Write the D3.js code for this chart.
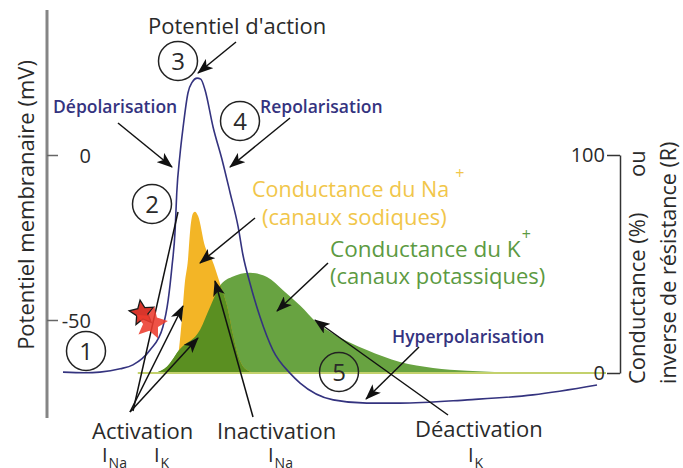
<!DOCTYPE html>
<html>
<head>
<meta charset="utf-8">
<script src="https://cdn.jsdelivr.net/npm/d3@7"></script>
<style>
html, body { margin: 0; padding: 0; background: #fff; }
svg { display: block; font-family: "Open Sans", sans-serif; }
</style>
</head>
<body>
<svg id="chart" width="683" height="468"></svg>
<script>
// membrane potential during the action potential (ms, mV)
var apTime = [0, 0.41, 0.69, 1.07, 1.31, 1.63, 1.87, 1.97, 2.04, 2.10, 2.13, 2.19, 2.25, 2.34, 2.42, 2.51, 2.58, 2.66, 2.81, 2.98, 3.13, 3.28, 3.37, 3.50, 3.69, 3.93, 4.25, 4.44, 5.06, 5.69, 6.31, 7.57, 8.80, 10.0];
var apVolt = [-65.8, -66.0, -65.8, -64.8, -63.6, -59.1, -52.1, -43.9, -33.9, -22.7, -11.5, 0, 8.5, 18.8, 22.1, 23.3, 23.0, 19.7, 8.5, -1.5, -11.5, -21.8, -30.3, -38.8, -49.1, -59.1, -66.1, -69.1, -74.2, -75.2, -75.2, -74.2, -72.7, -69.7];

// Na+ conductance (% of max)
var naTime = [2.00, 2.12, 2.17, 2.23, 2.28, 2.34, 2.38, 2.43, 2.47, 2.53, 2.66, 2.79, 2.94, 3.09, 3.18, 3.28, 3.41, 3.60];
var naCond = [0, 2, 10.5, 25.7, 41, 52, 65, 73, 74, 72, 58, 52, 41, 29, 18, 8, 2, 0];

// K+ conductance (% of max)
var kTime = [1.72, 1.95, 2.19, 2.57, 2.75, 2.94, 3.16, 3.50, 3.82, 4.12, 4.44, 4.76, 5.06, 5.37, 5.69, 6.31, 6.93, 7.57, 8.18, 8.93];
var kCond = [0, 3, 11, 20, 30, 40, 44, 46, 44, 38, 31, 23, 18, 14, 10.5, 5, 2.3, 1, 0.4, 0];

var voltTicks = [0, -50];
var condTicks = [0, 100];
var stepNumbers = ["1", "2", "3", "4", "5"];

var navy = "#34337f", ink = "#2a2a2a";

var svg = d3.select('#chart');
var defs = svg.append('defs');

var x = d3.scaleLinear().domain([0, 10]).range([63, 597]);
var yV = d3.scaleLinear().domain([-50, 0]).range([320, 155]);
var yG = d3.scaleLinear().domain([0, 100]).range([373, 155]);

var apData = apTime.map(function (t, i) { return { t: t, v: apVolt[i] }; });
var naData = naTime.map(function (t, i) { return { t: t, g: naCond[i] }; });
var kData = kTime.map(function (t, i) { return { t: t, g: kCond[i] }; });

var condArea = d3.area()
    .x(function (d) { return x(d.t); })
    .y0(yG(0))
    .y1(function (d) { return yG(d.g); })
    .curve(d3.curveMonotoneX);

// arrow head
defs.append('marker')
    .attr('id', 'arrow')
    .attr('viewBox', '0 0 16 12')
    .attr('refX', 15).attr('refY', 6)
    .attr('markerWidth', 16).attr('markerHeight', 12)
    .attr('markerUnits', 'userSpaceOnUse')
    .attr('orient', 'auto')
    .append('path')
    .attr('d', 'M0,0 L16,6 L0,12 L4,6 Z')
    .attr('fill', '#111');

// region left of the falling Na edge (K conductance shows darker there)
var naPeakT = naTime[naCond.indexOf(d3.max(naCond))];
var clip = defs.append('clipPath').attr('id', 'naLeft');
clip.append('path').attr('d', condArea(naData));
clip.append('rect').attr('x', 0).attr('y', 0).attr('width', x(naPeakT)).attr('height', yG(0) + 1);

// conductance fills
svg.append('path').attr('d', condArea(kData)).attr('fill', '#68a341');
svg.append('path').attr('d', condArea(naData)).attr('fill', '#f3b526');
svg.append('path').attr('d', condArea(kData)).attr('fill', '#5a8f21').attr('clip-path', 'url(#naLeft)');

// conductance zero line
svg.append('line')
    .attr('x1', x(1.4)).attr('x2', 606)
    .attr('y1', yG(0)).attr('y2', yG(0))
    .attr('stroke', '#c3d16c').attr('stroke-width', 2);

// left axis (membrane potential)
svg.append('line')
    .attr('x1', 47).attr('x2', 47).attr('y1', 10).attr('y2', 418)
    .attr('stroke', '#858585').attr('stroke-width', 3);

var gL = svg.append('g')
    .attr('transform', 'translate(47,0)')
    .call(d3.axisRight(yV).tickValues(voltTicks).tickSize(11).tickFormat(function (d) { return String(d); }));
gL.select('.domain').remove();
gL.selectAll('.tick line').attr('stroke', '#666').attr('stroke-width', 1.5);
gL.selectAll('.tick text')
    .attr('x', 44).attr('dy', '0.35em')
    .attr('text-anchor', 'end')
    .style('font-family', '"Open Sans", sans-serif')
    .style('font-size', '20px').attr('fill', ink);

// right axis (conductance)
var gR = svg.append('g')
    .attr('transform', 'translate(620,0)')
    .call(d3.axisLeft(yG).tickValues(condTicks).tickSize(13).tickSizeOuter(0).tickPadding(2));
gR.select('.domain').attr('stroke', '#333').attr('stroke-width', 1.5);
gR.selectAll('.tick line').attr('stroke', '#333').attr('stroke-width', 1.5);
gR.selectAll('.tick text')
    .style('font-family', '"Open Sans", sans-serif')
    .style('font-size', '20px').attr('fill', ink);

// axis titles
svg.append('text')
    .attr('transform', 'translate(34,205) rotate(-90)')
    .attr('text-anchor', 'middle')
    .style('font-size', '22px').attr('fill', ink)
    .text('Potentiel membranaire (mV)');
svg.append('text')
    .attr('transform', 'translate(645,384) rotate(-90)')
    .style('font-size', '22px').attr('fill', ink)
    .text('Conductance (%)');
svg.append('text')
    .attr('transform', 'translate(645,177) rotate(-90)')
    .style('font-size', '22px').attr('fill', ink)
    .text('ou');
svg.append('text')
    .attr('transform', 'translate(676,384) rotate(-90)')
    .style('font-size', '21.5px').attr('fill', ink)
    .text('inverse de résistance (R)');

// membrane potential curve
svg.append('path')
    .attr('d', d3.line()
        .x(function (d) { return x(d.t); })
        .y(function (d) { return yV(d.v); })
        .curve(d3.curveMonotoneX)(apData))
    .attr('fill', 'none')
    .attr('stroke', navy)
    .attr('stroke-width', 1.6);

// arrows [x1, y1, x2, y2, head]
var arrows = [
    [236, 42, 198, 73, true],
    [118, 123, 172, 167, true],
    [290, 118, 230, 167, true],
    [255, 218, 200, 263, true],
    [328, 263, 277, 311, true],
    [130, 412, 183, 306, true],
    [130, 412, 198, 338, true],
    [133, 411, 178, 212, false],
    [253, 417, 215, 281, true],
    [448, 415, 315, 320, true],
    [419, 347, 366, 399, true]
];
svg.selectAll('.arrow')
    .data(arrows)
    .enter()
    .append('line')
    .attr('class', 'arrow')
    .attr('x1', function (d) { return d[0]; })
    .attr('y1', function (d) { return d[1]; })
    .attr('x2', function (d) { return d[2]; })
    .attr('y2', function (d) { return d[3]; })
    .attr('stroke', '#111')
    .attr('stroke-width', 1.5)
    .attr('marker-end', function (d) { return d[4] ? 'url(#arrow)' : null; });

// numbered steps
var stepPos = [[86, 351], [152, 204], [178, 61], [240, 121], [339, 372]];
var steps = svg.selectAll('.step')
    .data(stepNumbers)
    .enter()
    .append('g')
    .attr('class', 'step')
    .attr('transform', function (d, i) { return 'translate(' + stepPos[i][0] + ',' + stepPos[i][1] + ')'; });
steps.append('circle').attr('r', 19.5).attr('fill', 'none').attr('stroke', '#222').attr('stroke-width', 1.5);
steps.append('text')
    .attr('text-anchor', 'middle').attr('dy', '0.36em')
    .style('font-size', '24px').attr('fill', ink)
    .text(function (d) { return d; });

// star at threshold
function starPath(cx, cy, R, r, rot) {
    var pts = [];
    for (var i = 0; i < 10; i++) {
        var a = rot + Math.PI * i / 5 - Math.PI / 2;
        var rr = i % 2 ? r : R;
        pts.push([cx + rr * Math.cos(a), cy + rr * Math.sin(a)]);
    }
    return 'M' + pts.join('L') + 'Z';
}
svg.append('path').attr('d', starPath(142, 313, 13, 6, -0.15))
    .attr('fill', '#d8352b').attr('stroke', '#1a1a1a').attr('stroke-width', 1.3);
svg.append('path').attr('d', starPath(151, 323, 17, 8, 0.2))
    .attr('fill', '#ec3b2e').attr('opacity', 0.88);

// labels
function label(tx, ty, str, size, color, weight) {
    return svg.append('text')
        .attr('x', tx).attr('y', ty)
        .style('font-size', size + 'px')
        .style('font-weight', weight || 400)
        .attr('fill', color)
        .text(str);
}
label(148, 34, "Potentiel d'action", 22, ink);
label(53, 113, 'Dépolarisation', 17.5, navy, 600);
label(260, 113, 'Repolarisation', 17.5, navy, 600);
label(392, 343, 'Hyperpolarisation', 17.5, navy, 600);

var na = label(252, 197, 'Conductance du Na', 21.5, '#f1c64a');
na.append('tspan').attr('dx', 6).attr('dy', -18).style('font-size', '16px').text('+');
label(262, 225, '(canaux sodiques)', 22, '#f1c64a');
var k = label(330, 257, 'Conductance du K', 22.5, '#5c9a42');
k.append('tspan').attr('dx', 1).attr('dy', -17).style('font-size', '16px').text('+');
label(330, 284, '(canaux potassiques)', 22, '#5c9a42');

label(92, 439, 'Activation', 22, ink);
label(217, 439, 'Inactivation', 22, ink);
label(415, 437, 'Déactivation', 22, ink);

function current(tx, ty, ion) {
    var t = label(tx, ty, 'I', 20, ink);
    t.append('tspan').attr('dx', 1).attr('dy', 6).style('font-size', '14px').text(ion);
}
current(102, 462, 'Na');
current(154, 462, 'K');
current(268, 462, 'Na');
current(468, 462, 'K');
</script>
</body>
</html>
